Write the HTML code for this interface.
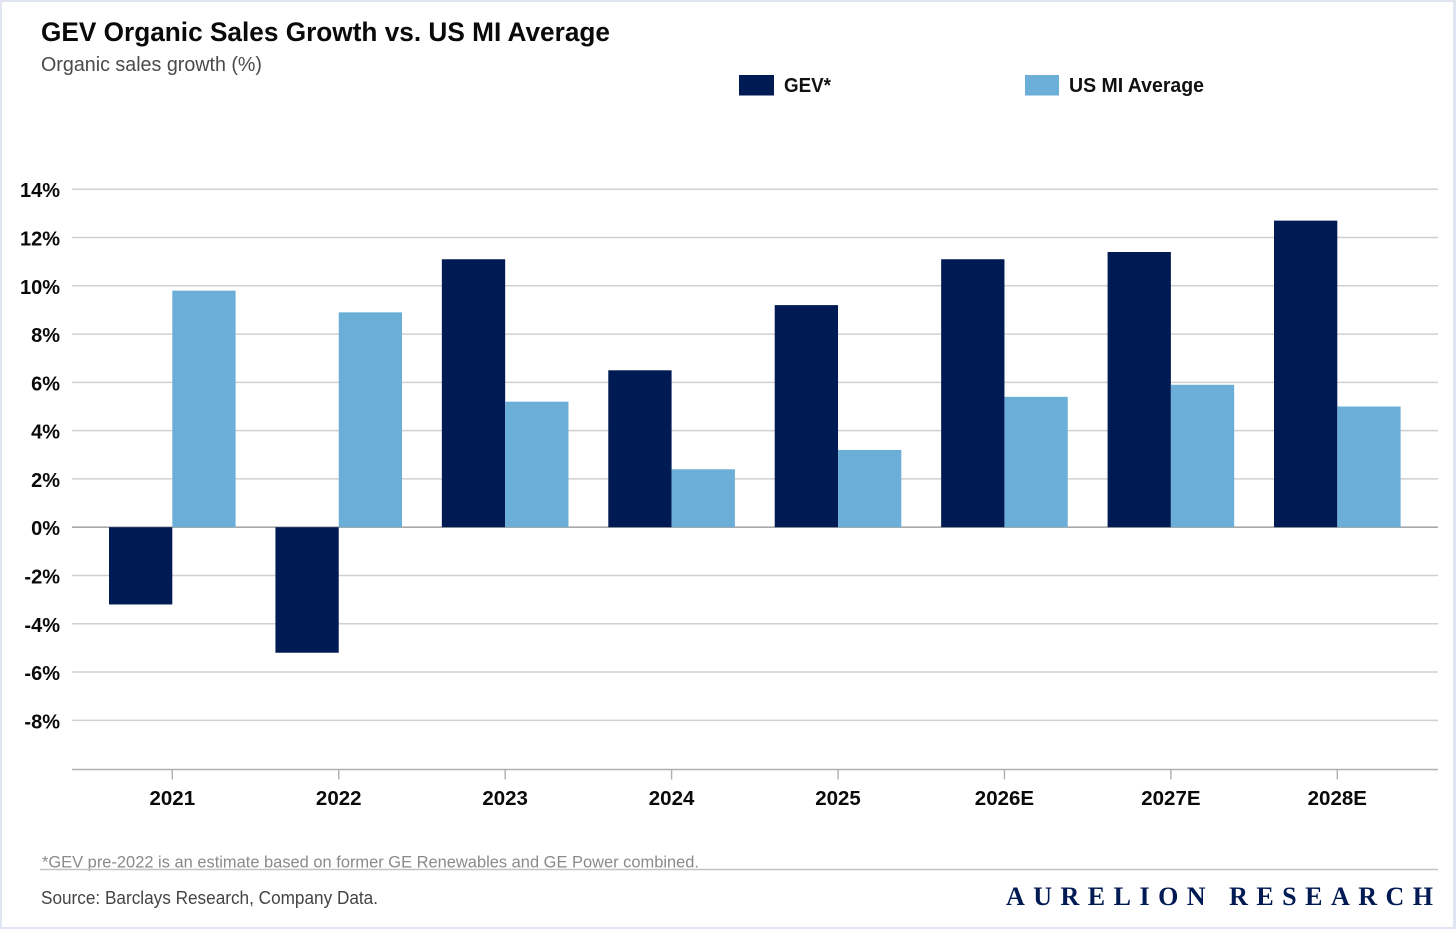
<!DOCTYPE html>
<html lang="en">
<head>
<meta charset="utf-8">
<title>GEV Organic Sales Growth vs. US MI Average</title>
<style>
html,body{margin:0;padding:0;background:#fff;}
svg{display:block;font-family:"Liberation Sans",sans-serif;}
</style>
</head>
<body>
<svg id="chart" width="1456" height="929" viewBox="0 0 1456 929" xmlns="http://www.w3.org/2000/svg">
  <rect x="0" y="0" width="1456" height="929" fill="#e1e5f2"/>
  <rect x="2" y="2" width="1451" height="925" fill="#ffffff"/>
  <text x="41" y="41" font-size="27" font-weight="700" fill="#0a0a0a" textLength="569" lengthAdjust="spacingAndGlyphs">GEV Organic Sales Growth vs. US MI Average</text>
  <text x="41" y="71" font-size="20" fill="#4a4a4a" textLength="221" lengthAdjust="spacingAndGlyphs">Organic sales growth (%)</text>
  <rect x="739" y="75" width="35" height="20.5" fill="#001a54"/>
  <text x="784" y="92" font-size="20" font-weight="700" fill="#111111" textLength="47" lengthAdjust="spacingAndGlyphs">GEV*</text>
  <rect x="1025" y="75" width="34" height="20.5" fill="#6baed8"/>
  <text x="1069" y="92" font-size="20" font-weight="700" fill="#111111" textLength="135" lengthAdjust="spacingAndGlyphs">US MI Average</text>
  <g id="grid"></g>
  <g id="bars"></g>
  <g id="axis"></g>
  <text x="42" y="867.5" font-size="16.5" fill="#8a8a8a" textLength="657" lengthAdjust="spacingAndGlyphs">*GEV pre-2022 is an estimate based on former GE Renewables and GE Power combined.</text>
  <line x1="40" x2="1438" y1="869.5" y2="869.5" stroke="#c4c4c4" stroke-width="1.4"/>
  <text x="41" y="904" font-size="18" fill="#444444" textLength="337" lengthAdjust="spacingAndGlyphs">Source: Barclays Research, Company Data.</text>
  <text x="1006" y="905" font-family="'Liberation Serif',serif" font-size="26" font-weight="700" fill="#001a54" textLength="427">AURELION RESEARCH</text>
</svg>
<script>
const categories = ["2021","2022","2023","2024","2025","2026E","2027E","2028E"];
const gevValues = [-3.2,-5.2,11.1,6.5,9.2,11.1,11.4,12.7];
const usMiValues = [9.8,8.9,5.2,2.4,3.2,5.4,5.9,5.0];
const yTickValues = [14,12,10,8,6,4,2,0,-2,-4,-6,-8];

const NS = "http://www.w3.org/2000/svg";
const PLOT_LEFT = 72, PLOT_RIGHT = 1438, AXIS_Y = 769.5;
const FIRST_CENTER = 172.3, STEP = 166.43, BAR_W = 63.3;
const y = v => 527.2 - v * 24.14;
const xCenter = i => FIRST_CENTER + i * STEP;

function mk(tag, attrs, parent, txt) {
  const el = document.createElementNS(NS, tag);
  for (const k in attrs) el.setAttribute(k, attrs[k]);
  if (txt !== undefined) el.textContent = txt;
  parent.appendChild(el);
  return el;
}

const grid = document.getElementById("grid");
const bars = document.getElementById("bars");
const axis = document.getElementById("axis");

yTickValues.forEach(v => {
  const line = mk("line", {x1: PLOT_LEFT, x2: PLOT_RIGHT, y1: y(v), y2: y(v),
    stroke: v === 0 ? "#a8a8a8" : "#d0d0d0", "stroke-width": v === 0 ? 1.6 : 1.5}, grid);
  
  
  const label = mk("text", {x: 60, y: y(v) + 8, "text-anchor": "end", "font-size": 20,
    "font-weight": 700, fill: "#0a0a0a"}, axis, v + "%");
  
  
});

categories.forEach((c, i) => {
  const cx = xCenter(i);
  const g = gevValues[i], u = usMiValues[i];
  const gevBar = mk("rect", {x: cx - BAR_W, y: Math.min(y(g), y(0)), width: BAR_W,
    height: Math.abs(y(g) - y(0)), fill: "#001a54"}, bars);
  
  
  const usBar = mk("rect", {x: cx, y: Math.min(y(u), y(0)), width: BAR_W,
    height: Math.abs(y(u) - y(0)), fill: "#6baed8"}, bars);
  
  
  const tick = mk("line", {x1: cx, x2: cx, y1: AXIS_Y, y2: AXIS_Y + 10, stroke: "#b0b0b0", "stroke-width": 1.4}, axis);
  
  
  const label = mk("text", {x: cx, y: 805, "text-anchor": "middle", "font-size": 20.5,
    "font-weight": 700, fill: "#0a0a0a"}, axis, c);
  
  
});

const xAxisLine = mk("line", {x1: PLOT_LEFT, x2: PLOT_RIGHT, y1: AXIS_Y, y2: AXIS_Y, stroke: "#b0b0b0", "stroke-width": 1.6}, axis);


</script>
</body>
</html>
